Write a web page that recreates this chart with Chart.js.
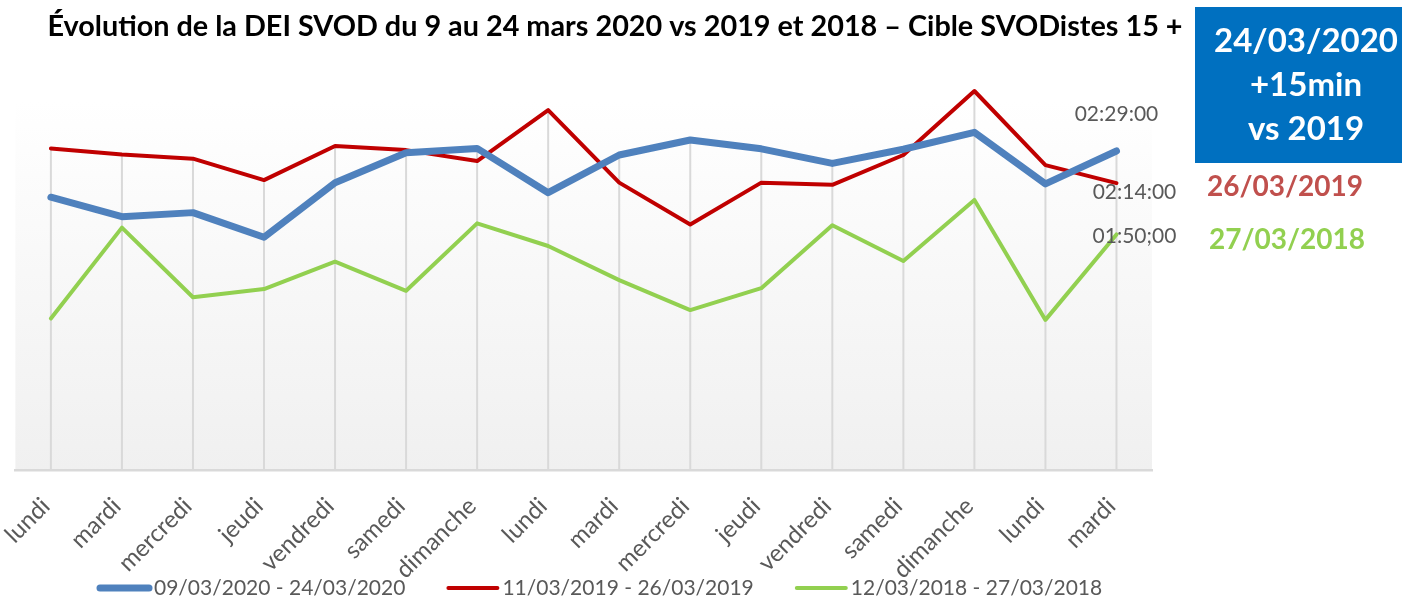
<!DOCTYPE html>
<html>
<head>
<meta charset="utf-8">
<script src="https://cdn.jsdelivr.net/npm/chart.js@4.4.1/dist/chart.umd.min.js"></script>
<style>
  html, body { margin: 0; padding: 0; background: #fff; }
  #wrap { width: 1402px; height: 600px; }
</style>
</head>
<body>
<div id="wrap"><canvas id="dei-chart"></canvas></div>
<script>
// Jours (x) et durées moyennes en minutes (y)
const days = ['lundi', 'mardi', 'mercredi', 'jeudi', 'vendredi', 'samedi', 'dimanche',
              'lundi', 'mardi', 'mercredi', 'jeudi', 'vendredi', 'samedi', 'dimanche', 'lundi', 'mardi'];

const seriesNames = ['09/03/2020 - 24/03/2020', '11/03/2019 - 26/03/2019', '12/03/2018 - 27/03/2018'];

const dei2020 = [127.4, 118.3, 120.2, 108.7, 134.2, 148.2, 150.2, 129.5, 147.1, 154.1, 150.0, 143.2, 149.8, 157.7, 133.6, 149];
const dei2019 = [150.2, 147.3, 145.4, 135.4, 151.3, 149.4, 144.3, 168.1, 134.2, 114.7, 134.2, 133.2, 147.1, 177.0, 142.4, 134];
const dei2018 = [70.8, 113.2, 80.7, 84.5, 97.3, 83.7, 115.2, 104.6, 88.7, 74.7, 84.9, 114.3, 97.6, 126.1, 70.1, 110];

// étiquettes du dernier point (texte tel quel)
const endLabels = ['02:29:00', '02:14:00', '01:50;00'];

const titleText = 'Évolution de la DEI SVOD du 9 au 24 mars 2020 vs 2019 et 2018 \u2013 Cible SVODistes 15 +';
const calloutLines = ['24/03/2020', '+15min', 'vs 2019'];
const sideNotes = ['26/03/2019', '27/03/2018'];

const colors = ['#4F81BD', '#C00000', '#92D050'];
const widths = [7, 4, 4];
const greyText = '#595959';

// fond dégradé de la zone de traçage
const plotBackground = {
    id: 'plotBackground',
    beforeDraw(chart) {
        const { ctx, chartArea: a } = chart;
        const g = ctx.createLinearGradient(0, a.top, 0, a.bottom);
        g.addColorStop(0, '#ffffff');
        g.addColorStop(1, '#f0f0f0');
        ctx.save();
        ctx.fillStyle = g;
        ctx.fillRect(a.left, a.top, a.right - a.left, a.bottom - a.top);
        ctx.restore();
    }
};

// lignes de projection (du point le plus haut jusqu'à l'axe)
const dropLines = {
    id: 'dropLines',
    beforeDatasetsDraw(chart) {
        const { ctx, scales: { x, y }, chartArea } = chart;
        ctx.save();
        ctx.strokeStyle = '#d9d9d9';
        ctx.lineWidth = 2;
        days.forEach((d, i) => {
            const top = Math.max(...chart.data.datasets.map(ds => ds.data[i]));
            const px = x.getPixelForValue(i);
            ctx.beginPath();
            ctx.moveTo(px, y.getPixelForValue(top));
            ctx.lineTo(px, chartArea.bottom);
            ctx.stroke();
        });
        ctx.restore();
    }
};

// légende en bas, tracée à partir des styles des séries
const bottomLegend = {
    id: 'bottomLegend',
    afterDraw(chart) {
        const ctx = chart.ctx;
        ctx.save();
        ctx.font = '21px Lato';
        ctx.textBaseline = 'middle';
        ctx.textAlign = 'left';
        let x = 97;
        const y = 588;
        chart.data.datasets.forEach(ds => {
            ctx.strokeStyle = ds.borderColor;
            ctx.lineWidth = ds.borderWidth;
            ctx.lineCap = 'round';
            ctx.beginPath();
            ctx.moveTo(x + 3, y);
            ctx.lineTo(x + 52, y);
            ctx.stroke();
            ctx.fillStyle = greyText;
            ctx.fillText(ds.label, x + 57, y);
            x += 57 + ctx.measureText(ds.label).width + 40;
        });
        ctx.restore();
    }
};

// titre, encadré et étiquettes de fin
const annotations = {
    id: 'annotations',
    afterDraw(chart) {
        const ctx = chart.ctx;
        ctx.save();
        ctx.textBaseline = 'middle';
        ctx.textAlign = 'center';

        ctx.fillStyle = '#000';
        ctx.font = 'bold 28.8px Lato';
        ctx.fillText(titleText, 615, 27);

        ctx.fillStyle = '#0070C0';
        ctx.fillRect(1195, 7, 207, 156);
        ctx.fillStyle = '#fff';
        ctx.font = 'bold 33px Lato';
        calloutLines.forEach((t, i) => ctx.fillText(t, 1306, 41 + i * 44));

        ctx.font = 'bold 28px Lato';
        ctx.fillStyle = '#C0504D';
        ctx.fillText(sideNotes[0], 1285, 187);
        ctx.fillStyle = '#92D050';
        ctx.fillText(sideNotes[1], 1287, 240);

        // étiquettes sur le dernier point de chaque série
        const offsets = [[0, -37], [18, 9], [18, 2]];
        ctx.font = '21px Lato';
        ctx.fillStyle = greyText;
        chart.data.datasets.forEach((ds, i) => {
            const meta = chart.getDatasetMeta(i);
            const pt = meta.data[meta.data.length - 1];
            ctx.fillText(endLabels[i], pt.x + offsets[i][0], pt.y + offsets[i][1]);
        });
        ctx.restore();
    }
};

const datasets = [dei2020, dei2019, dei2018].map((vals, i) => ({
    label: seriesNames[i],
    data: vals,
    borderColor: colors[i],
    backgroundColor: colors[i],
    borderWidth: widths[i],
    borderCapStyle: 'round',
    borderJoinStyle: 'round',
    pointRadius: 0,
    pointHoverRadius: 0,
    tension: 0,
    clip: false
}));

new Chart(document.getElementById('dei-chart'), {
    type: 'line',
    data: { labels: days, datasets: datasets },
    options: {
        responsive: true,
        maintainAspectRatio: false,
        animation: false,
        layout: { padding: { top: 100, left: 12, right: 250, bottom: 0 } },
        scales: {
            x: {
                offset: true,
                grid: { display: false },
                border: { color: '#d9d9d9', width: 2.5 },
                ticks: {
                    minRotation: 45,
                    maxRotation: 45,
                    autoSkip: false,
                    padding: 14,
                    labelOffset: -5,
                    color: greyText,
                    font: { family: 'Lato', size: 24 }
                },
                afterFit(scale) { scale.height = 130; }
            },
            y: {
                display: false,
                min: 0,
                max: 172.8
            }
        },
        plugins: {
            legend: { display: false },
            tooltip: { enabled: false },
            title: { display: false }
        }
    },
    plugins: [plotBackground, dropLines, bottomLegend, annotations]
});
</script>
</body>
</html>
